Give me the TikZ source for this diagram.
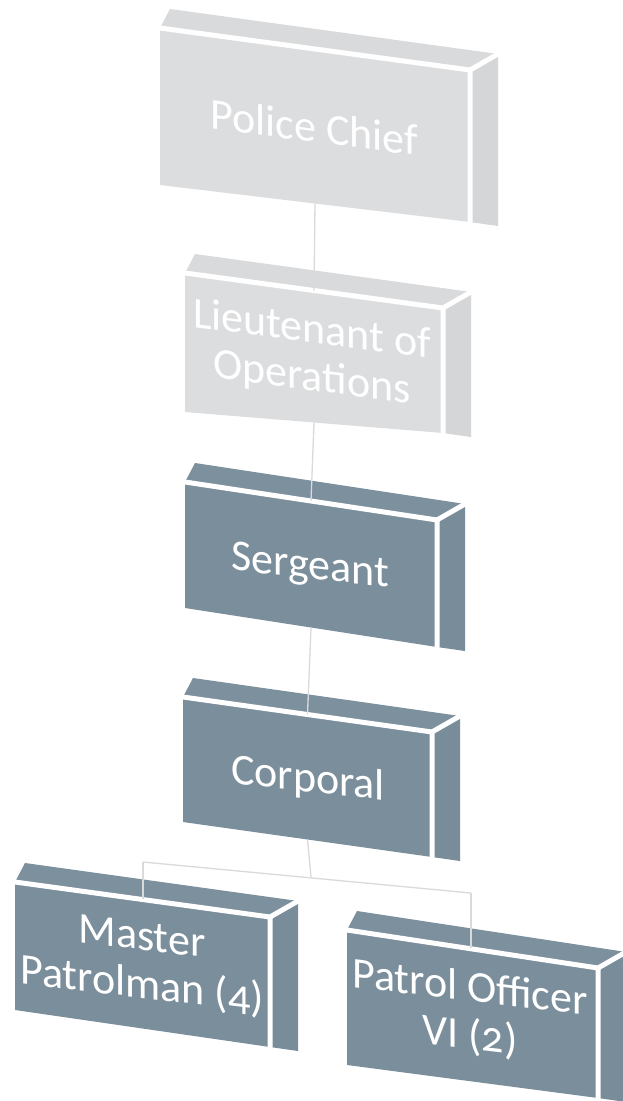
\documentclass[tikz,border=0pt]{standalone}
\usepackage{fontspec}
\setmainfont{Carlito}[Numbers=OldStyle]
\usetikzlibrary{calc}
\definecolor{ltfront}{HTML}{DCDDDF}
\definecolor{lttop}{HTML}{D9DADC}
\definecolor{ltside}{HTML}{D5D6D8}
\definecolor{dkfront}{HTML}{7B8E9C}
\definecolor{dktop}{HTML}{7D909E}
\definecolor{dkside}{HTML}{798C9A}
\definecolor{linkc}{HTML}{DADADA}
\tikzset{
  sep/.style={white, line width=5pt, line join=round, line cap=round},
  lbl/.style={transform shape, text=white, align=center, font=\fontsize{44}{48}\selectfont, inner sep=0pt},
  link/.style={linkc, line width=1.3pt}
}
% #1 name, #2 x0, #3 x1, #4 yTL, #5 yTR, #6 yBL, #7 yBR, #8 colour prefix
\newcommand\orgbox[8]{%
  \coordinate (#1-ftl) at (#2,#4);
  \coordinate (#1-ftr) at (#3,#5);
  \coordinate (#1-fbr) at (#3,#7);
  \coordinate (#1-fbl) at (#2,#6);
  \coordinate (#1-btl) at ($(#1-ftl)+(10,-19)$);
  \coordinate (#1-btr) at ($(#1-ftr)+(28,-16)$);
  \coordinate (#1-bbr) at ($(#1-fbr)+(28,4)$);
  \fill[#8top] (#1-ftl) -- (#1-btl) -- (#1-btr) -- (#1-ftr) -- cycle;
  \fill[#8side] (#1-ftr) -- (#1-btr) -- (#1-bbr) -- (#1-fbr) -- cycle;
  \fill[#8front] (#1-ftl) -- (#1-ftr) -- (#1-fbr) -- (#1-fbl) -- cycle;
  \draw[sep] (#1-ftl) -- (#1-ftr) -- (#1-fbr);
  \draw[sep] (#1-ftr) -- (#1-btr);
  \coordinate (#1-t) at ($(#1-ftl)!0.5!(#1-ftr)$);
  \coordinate (#1-b) at ($(#1-fbl)!0.5!(#1-fbr)$);
}
\begin{document}
\begin{tikzpicture}[x=1pt,y=-1pt]
\useasboundingbox[fill=white] (0,0) rectangle (623,1101);

\orgbox{pc}{160}{470}{28}{70}{185}{222}{lt}
\orgbox{lo}{185}{443}{273}{308}{412}{433}{lt}
\orgbox{sg}{185}{437}{482}{520}{608}{647}{dk}
\orgbox{cp}{183}{432}{697}{732}{822}{857}{dk}
\orgbox{mp}{15}{270}{882}{917}{1010}{1047}{dk}
\orgbox{po}{347}{598}{930}{968}{1065}{1098}{dk}

% labels
\begin{scope}[shift={(314,127)}, yslant=-0.13]
  \node[lbl] (pcl) at (0,0) {Police Chief};
\end{scope}
\begin{scope}[shift={(312,355)}, yslant=-0.13]
  \node[lbl] (lol) at (0,0) {Lieutenant of\\Operations};
\end{scope}
\begin{scope}[shift={(310,568)}, yslant=-0.11]
  \node[lbl] (sgl) at (0,0) {Sergeant};
\end{scope}
\begin{scope}[shift={(308,780)}, yslant=-0.11]
  \node[lbl] (cpl) at (0,0) {Corporal};
\end{scope}
\begin{scope}[shift={(142,963)}, yslant=-0.12]
  \node[lbl] (mpl) at (0,0) {Master\\Patrolman (4)};
\end{scope}
\begin{scope}[shift={(470,1013)}, yslant=-0.12]
  \node[lbl] (pol) at (0,0) {Patrol Officer\\VI (2)};
\end{scope}

% connectors
\coordinate (jn) at (311,877);
\coordinate (jl) at (143,862);
\coordinate (jr) at (471,893);
\coordinate (mp-c) at (143,899);
\coordinate (po-c) at (471,948);
\draw[link] (pc-b) -- (lo-t);
\draw[link] (lo-b) -- (sg-t);
\draw[link] (sg-b) -- (cp-t);
\draw[link] (cp-b) -- (jn);
\draw[link] (jl) -- (jr);
\draw[link] (jl) -- (mp-c);
\draw[link] (jr) -- (po-c);
\end{tikzpicture}
\end{document}
